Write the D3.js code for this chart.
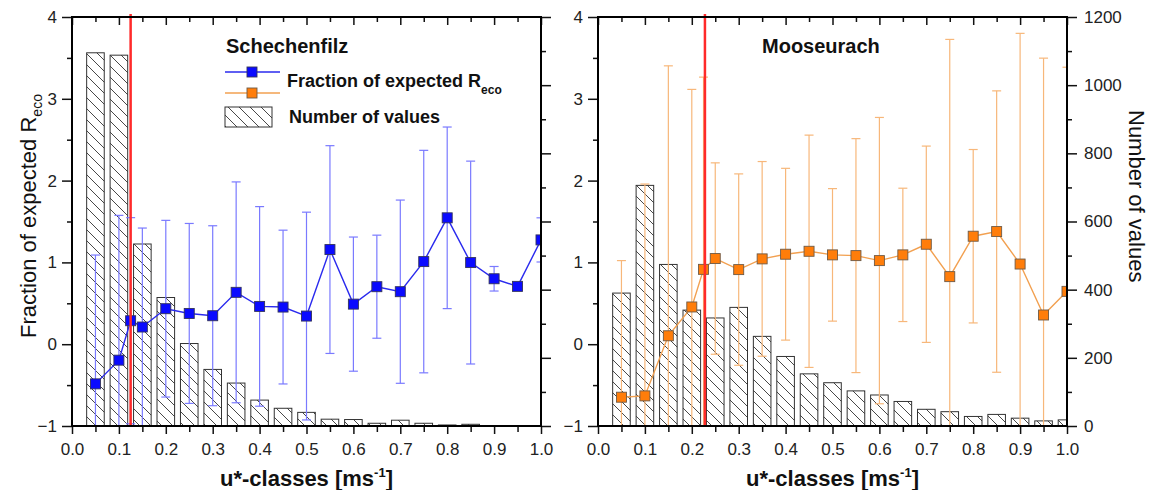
<!DOCTYPE html>
<html>
<head>
<meta charset="utf-8">
<script src="https://cdn.jsdelivr.net/npm/d3@7"></script>
<style>
  body { margin: 0; background: #fff; }
  svg { font-family: "Liberation Sans", Arial, sans-serif; }
</style>
</head>
<body>
<svg id="chart" width="1149" height="490"></svg>
<script>
// u*-classes of the histogram bars
const barClasses = [0.05, 0.1, 0.15, 0.2, 0.25, 0.3, 0.35, 0.4, 0.45, 0.5,
  0.55, 0.6, 0.65, 0.7, 0.75, 0.8, 0.85, 0.9, 0.95, 1.0];
const countsSchechenfilz = [1095, 1088, 534, 377, 242, 166, 126, 76, 52, 40,
  20, 19, 8, 17, 8, 3, 5, 0, 0, 0];
const countsMooseurach = [390, 706, 474, 340, 317, 348, 263, 204, 153, 127,
  103, 91, 72, 49, 42, 28, 34, 23, 15, 18];

// fraction of expected Reco (mean and error)
const uSchechenfilz = [0.05, 0.1, 0.125, 0.15, 0.2, 0.25, 0.3, 0.35, 0.4, 0.45,
  0.5, 0.55, 0.6, 0.65, 0.7, 0.75, 0.8, 0.85, 0.9, 0.95, 1.0];
const fracSchechenfilz = [-0.485, -0.195, 0.287, 0.21, 0.434, 0.376, 0.348, 0.634, 0.462, 0.454,
  0.344, 1.157, 0.49, 0.703, 0.642, 1.01, 1.545, 0.998, 0.8, 0.707, 1.275];
const errSchechenfilz = [1.575, 1.77, 1.26, 1.21, 1.08, 1.1, 1.1, 1.35, 1.22, 0.94,
  1.27, 1.27, 0.82, 0.63, 1.12, 1.36, 1.11, 1.24, 0.15, 0, 0.27];

const uMooseurach = [0.05, 0.1, 0.15, 0.2, 0.225, 0.25, 0.3, 0.35, 0.4, 0.45,
  0.5, 0.55, 0.6, 0.65, 0.7, 0.75, 0.8, 0.85, 0.9, 0.95, 1.0];
const fracMooseurach = [-0.648, -0.632, 0.103, 0.455, 0.915, 1.047, 0.912, 1.043, 1.1, 1.136,
  1.092, 1.083, 1.022, 1.092, 1.222, 0.826, 1.32, 1.377, 0.98, 0.357, 0.646];
const errMooseurach = [1.67, 2.59, 3.3, 2.66, 2.35, 1.17, 1.17, 1.19, 1.05, 1.42,
  0.81, 1.43, 1.75, 0.815, 1.2, 2.9, 1.06, 1.72, 2.82, 3.14, 2.74];

// u* thresholds (red lines)
const thresholdSchechenfilz = 0.125;
const thresholdMooseurach = 0.228;

// ticks
const xTicks = [0, 0.1, 0.2, 0.3, 0.4, 0.5, 0.6, 0.7, 0.8, 0.9, 1.0];
const xMinorTicks = [0.05, 0.15, 0.25, 0.35, 0.45, 0.55, 0.65, 0.75, 0.85, 0.95];
const fracTicks = [-1, 0, 1, 2, 3, 4];
const fracMinorTicks = [-0.5, 0.5, 1.5, 2.5, 3.5];
const countTicks = [0, 200, 400, 600, 800, 1000, 1200];
const countMinorTicks = [100, 300, 500, 700, 900, 1100];

const plotTop = 17;
const plotBottom = 426;

const svg = d3.select('#chart');
const defs = svg.append('defs');

defs
  .append('pattern')
  .attr('id', 'hatch')
  .attr('patternUnits', 'userSpaceOnUse')
  .attr('width', 11)
  .attr('height', 11)
  .append('path')
  .attr('d', 'M-3,-3L14,14M-3,8L3,14M8,-3L14,3')
  .attr('stroke', '#333')
  .attr('stroke-width', 0.9);

const yFrac = d3.scaleLinear().domain([-1, 4]).range([plotBottom, plotTop]);
const yCount = d3.scaleLinear().domain([0, 1200]).range([plotBottom, plotTop]);

const styleTicks = (g, showText) => {
  g.select('.domain').remove();
  g.selectAll('.tick line').attr('stroke', '#111').attr('stroke-width', 1.5);
  g.selectAll('.tick text')
    .attr('fill', '#222')
    .style('font-size', '17px')
    .style('display', showText ? null : 'none');
  g.attr('font-family', null);
};

const drawPanel = (p) => {
  const x = d3.scaleLinear().domain([0, 1]).range([p.left, p.right]);
  const barW = x(0.0375) - x(0);

  const clipId = 'clip-' + p.id;
  defs
    .append('clipPath')
    .attr('id', clipId)
    .append('rect')
    .attr('x', p.left)
    .attr('y', plotTop)
    .attr('width', p.right - p.left)
    .attr('height', plotBottom - plotTop);

  const plot = svg.append('g').attr('clip-path', `url(#${clipId})`);

  // histogram of number of values
  plot
    .selectAll('rect.bar')
    .data(p.counts)
    .join('rect')
    .attr('class', 'bar')
    .attr('x', (d, i) => x(barClasses[i]) - barW / 2)
    .attr('y', (d) => yCount(d))
    .attr('width', barW)
    .attr('height', (d) => plotBottom - yCount(d))
    .attr('fill', 'url(#hatch)')
    .attr('stroke', '#333')
    .attr('stroke-width', 1)
    .style('display', (d) => (d > 0 ? null : 'none'));

  // threshold
  svg
    .append('line')
    .attr('x1', x(p.threshold))
    .attr('x2', x(p.threshold))
    .attr('y1', plotTop - 3)
    .attr('y2', plotBottom)
    .attr('stroke', '#ff2a2a')
    .attr('stroke-width', 2.5);

  const pts = p.u.map((u, i) => ({ u: u, v: p.frac[i], e: p.err[i] }));

  // error bars
  const eb = plot
    .selectAll('g.err')
    .data(pts.filter((d) => d.e > 0))
    .join('g')
    .attr('class', 'err')
    .attr('stroke', p.errColor)
    .attr('stroke-width', 1.2);
  eb.append('line')
    .attr('x1', (d) => x(d.u))
    .attr('x2', (d) => x(d.u))
    .attr('y1', (d) => yFrac(d.v + d.e))
    .attr('y2', (d) => yFrac(d.v - d.e));
  eb.append('line')
    .attr('x1', (d) => x(d.u) - 4.5)
    .attr('x2', (d) => x(d.u) + 4.5)
    .attr('y1', (d) => yFrac(d.v + d.e))
    .attr('y2', (d) => yFrac(d.v + d.e));
  eb.append('line')
    .attr('x1', (d) => x(d.u) - 4.5)
    .attr('x2', (d) => x(d.u) + 4.5)
    .attr('y1', (d) => yFrac(d.v - d.e))
    .attr('y2', (d) => yFrac(d.v - d.e));

  const line = d3
    .line()
    .x((d) => x(d.u))
    .y((d) => yFrac(d.v));
  plot
    .append('path')
    .datum(pts)
    .attr('d', line)
    .attr('fill', 'none')
    .attr('stroke', p.lineColor)
    .attr('stroke-width', 1.4);

  plot
    .selectAll('rect.mk')
    .data(pts)
    .join('rect')
    .attr('class', 'mk')
    .attr('x', (d) => x(d.u) - 5)
    .attr('y', (d) => yFrac(d.v) - 5)
    .attr('width', 10)
    .attr('height', 10)
    .attr('fill', p.markerColor)
    .attr('stroke', p.markerStroke)
    .attr('stroke-width', 0.9);

  // axes
  const gb = svg.append('g').attr('transform', `translate(0,${plotBottom})`);
  gb.append('g')
    .call(d3.axisBottom(x).tickValues(xTicks).tickSize(8).tickPadding(9).tickFormat(d3.format('.1f')))
    .call(styleTicks, true);
  gb.append('g')
    .call(d3.axisBottom(x).tickValues(xMinorTicks).tickSize(6).tickFormat(''))
    .call(styleTicks, false);

  const gt = svg.append('g').attr('transform', `translate(0,${plotTop})`);
  gt.append('g')
    .call(d3.axisBottom(x).tickValues(xTicks).tickSize(8).tickFormat(''))
    .call(styleTicks, false);
  gt.append('g')
    .call(d3.axisBottom(x).tickValues(xMinorTicks).tickSize(5).tickFormat(''))
    .call(styleTicks, false);

  const gl = svg.append('g').attr('transform', `translate(${p.left},0)`);
  gl.append('g')
    .call(d3.axisLeft(yFrac).tickValues(fracTicks).tickSize(10).tickPadding(5).tickFormat(d3.format('d')))
    .call(styleTicks, true);
  gl.append('g')
    .call(d3.axisLeft(yFrac).tickValues(fracMinorTicks).tickSize(5).tickFormat(''))
    .call(styleTicks, false);

  const gr = svg.append('g').attr('transform', `translate(${p.right},0)`);
  gr.append('g')
    .call(d3.axisRight(yCount).tickValues(countTicks).tickSize(10).tickPadding(7).tickFormat(d3.format('d')))
    .call(styleTicks, p.showCountLabels);
  gr.append('g')
    .call(d3.axisRight(yCount).tickValues(countMinorTicks).tickSize(5).tickFormat(''))
    .call(styleTicks, false);

  svg
    .append('rect')
    .attr('x', p.left)
    .attr('y', plotTop)
    .attr('width', p.right - p.left)
    .attr('height', plotBottom - plotTop)
    .attr('fill', 'none')
    .attr('stroke', '#000')
    .attr('stroke-width', 2);

  // x title
  const xt = svg
    .append('text')
    .attr('x', (p.left + p.right) / 2)
    .attr('y', 486)
    .attr('text-anchor', 'middle')
    .attr('font-weight', 'bold')
    .style('font-size', '22px')
    .attr('fill', '#111');
  xt.append('tspan').text('u*-classes [ms');
  xt.append('tspan').attr('dy', -9).style('font-size', '13px').text('-1');
  xt.append('tspan').attr('dy', 9).text(']');

  svg
    .append('text')
    .attr('x', p.titleX)
    .attr('y', 53)
    .attr('font-weight', 'bold')
    .style('font-size', '20px')
    .attr('fill', '#111')
    .text(p.name);

  return x;
};

drawPanel({
  id: 'sch',
  name: 'Schechenfilz',
  titleX: 226,
  left: 72,
  right: 541,
  counts: countsSchechenfilz,
  u: uSchechenfilz,
  frac: fracSchechenfilz,
  err: errSchechenfilz,
  threshold: thresholdSchechenfilz,
  errColor: '#7a7aff',
  lineColor: '#2a2aee',
  markerColor: '#0a0aff',
  markerStroke: '#33335a',
  showCountLabels: false,
});

drawPanel({
  id: 'moo',
  name: 'Mooseurach',
  titleX: 762,
  left: 598,
  right: 1067,
  counts: countsMooseurach,
  u: uMooseurach,
  frac: fracMooseurach,
  err: errMooseurach,
  threshold: thresholdMooseurach,
  errColor: '#f7b77a',
  lineColor: '#f2a050',
  markerColor: '#ff7d0a',
  markerStroke: '#6e5a46',
  showCountLabels: true,
});

// legend (left panel)
const legend = svg.append('g').attr('font-weight', 'bold').style('font-size', '18px').attr('fill', '#111');
const legendRows = [
  { y: 72, line: '#2a2aee', fill: '#0a0aff', stroke: '#33335a' },
  { y: 93, line: '#f2a050', fill: '#ff7d0a', stroke: '#6e5a46' },
];
legendRows.forEach((r) => {
  legend.append('line').attr('x1', 225).attr('x2', 280).attr('y1', r.y).attr('y2', r.y)
    .attr('stroke', r.line).attr('stroke-width', 1.4);
  legend.append('rect').attr('x', 247).attr('y', r.y - 5).attr('width', 10).attr('height', 10)
    .attr('fill', r.fill).attr('stroke', r.stroke).attr('stroke-width', 0.9);
});
legend.append('rect').attr('x', 225).attr('y', 107).attr('width', 47).attr('height', 20)
  .attr('fill', 'url(#hatch)').attr('stroke', '#333').attr('stroke-width', 1);
const lt = legend.append('text').attr('x', 287).attr('y', 87);
lt.append('tspan').text('Fraction of expected R');
lt.append('tspan').attr('dy', 7).style('font-size', '12px').text('eco');
legend.append('text').attr('x', 289).attr('y', 123).text('Number of values');

// y titles
const yl = svg
  .append('text')
  .attr('transform', 'translate(36,338) rotate(-90)')
  .style('font-size', '22px')
  .attr('fill', '#111');
yl.append('tspan').text('Fraction of expected R');
yl.append('tspan').attr('dy', 6).style('font-size', '14px').text('eco');

svg
  .append('text')
  .attr('transform', 'translate(1129,110) rotate(90)')
  .style('font-size', '22px')
  .attr('fill', '#111')
  .text('Number of values');
</script>
</body>
</html>
